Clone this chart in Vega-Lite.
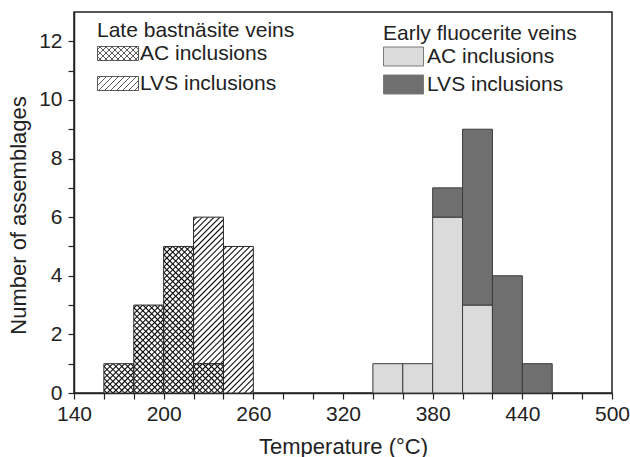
{
"$schema": "https://vega.github.io/schema/vega-lite/v6.json",
"width": 538, "height": 381,
"autosize": "none",
"padding": {"left": 74, "top": 12, "right": 18, "bottom": 64},
"background": "white",
"config": {
"font": "Liberation Sans",
"view": {"stroke": "#222", "strokeWidth": 1.5},
"axis": {"grid": false, "domainColor": "#222", "domainWidth": 1.5, "tickColor": "#222", "tickWidth": 1.2, "tickSize": 6, "labelFont": "Liberation Sans", "labelFontSize": 21, "labelColor": "#222", "titleFont": "Liberation Sans", "titleFontSize": 22, "titleFontWeight": "normal", "titleColor": "#222", "labelOverlap": false, "labelFlush": false, "labelBound": false},
"legend": {"labelFont": "Liberation Sans", "labelFontSize": 21, "labelColor": "#222", "titleFont": "Liberation Sans", "titleFontSize": 21, "titleFontWeight": "normal", "titleColor": "#222", "titleLimit": 400, "labelLimit": 300, "padding": 0, "offset": 0}
},
"data": {"values": [
{"vein":"Late bastnäsite veins","type":"AC inclusions","t0":160,"t1":180,"count":1},
{"vein":"Late bastnäsite veins","type":"AC inclusions","t0":180,"t1":200,"count":3},
{"vein":"Late bastnäsite veins","type":"AC inclusions","t0":200,"t1":220,"count":5},
{"vein":"Late bastnäsite veins","type":"AC inclusions","t0":220,"t1":240,"count":1},
{"vein":"Late bastnäsite veins","type":"LVS inclusions","t0":220,"t1":240,"count":5},
{"vein":"Late bastnäsite veins","type":"LVS inclusions","t0":240,"t1":260,"count":5},
{"vein":"Early fluocerite veins","type":"AC inclusions","t0":340,"t1":360,"count":1},
{"vein":"Early fluocerite veins","type":"AC inclusions","t0":360,"t1":380,"count":1},
{"vein":"Early fluocerite veins","type":"AC inclusions","t0":380,"t1":400,"count":6},
{"vein":"Early fluocerite veins","type":"AC inclusions","t0":400,"t1":420,"count":3},
{"vein":"Early fluocerite veins","type":"LVS inclusions","t0":380,"t1":400,"count":1},
{"vein":"Early fluocerite veins","type":"LVS inclusions","t0":400,"t1":420,"count":6},
{"vein":"Early fluocerite veins","type":"LVS inclusions","t0":420,"t1":440,"count":4},
{"vein":"Early fluocerite veins","type":"LVS inclusions","t0":440,"t1":460,"count":1}
]},
"transform": [{"stack": "count", "groupby": ["t0"], "sort": [{"field": "type", "order": "ascending"}], "as": ["y0", "y1"]}],
"encoding": {
"x": {"field": "t0", "type": "quantitative", "scale": {"domain": [140, 500], "nice": false, "zero": false}, "axis": {"title": "Temperature (°C)", "values": [140,160,180,200,220,240,260,280,300,320,340,360,380,400,420,440,460,480,500], "labelExpr": "(datum.value - 140) % 60 === 0 ? datum.label : ''", "labelPadding": 4, "titlePadding": 12}},
"x2": {"field": "t1"},
"y": {"field": "y0", "type": "quantitative", "scale": {"domain": [0, 13], "nice": false}, "axis": {"title": "Number of assemblages", "values": [0,1,2,3,4,5,6,7,8,9,10,11,12], "labelExpr": "datum.value % 2 === 0 ? datum.label : ''", "labelPadding": 6, "titlePadding": 8, "titleY": 203}},
"y2": {"field": "y1"}
},
"layer": [
{"transform": [{"filter": "datum.vein === 'Early fluocerite veins'"}],
 "mark": {"type": "bar", "stroke": "#3c3c3c", "strokeWidth": 1},
 "encoding": {"fill": {"field": "type", "type": "nominal", "scale": {"domain": ["AC inclusions", "LVS inclusions"], "range": ["#dbdbdb", "#6f6f6f"]},
   "legend": {"title": "Early fluocerite veins", "orient": "none", "legendX": 309, "legendY": 11, "symbolType": "M-1,-0.95H3V0.95H-1Z", "symbolSize": 400, "symbolStrokeColor": "#7a7a7a", "symbolStrokeWidth": 1, "labelOffset": 23, "rowPadding": 5, "titlePadding": 2,
     "encode": {"symbols": {"update": {"stroke": {"value": "#7a7a7a"}, "strokeWidth": {"value": 1}, "opacity": {"value": 1}}}}}}}},
{"transform": [{"filter": "datum.vein === 'Late bastnäsite veins'"}],
 "mark": {"type": "bar"},
 "encoding": {"fill": {"field": "type", "type": "nominal", "scale": {"domain": ["AC inclusions", "LVS inclusions"], "range": ["#ffffff", "#ffffff"]},
   "legend": {"title": "Late bastnäsite veins", "orient": "none", "legendX": 23, "legendY": 8, "symbolSize": 400, "symbolStrokeWidth": 0.8, "labelOffset": 22, "rowPadding": 8, "titlePadding": 2,
     "encode": {"symbols": {"update": {
       "shape": [{"test": "datum.value === 'AC inclusions'", "value": "M-1,-0.7H3.1V0.7H-1ZM-1,-0.4L-0.7,-0.7M-1,0.2L-0.1,-0.7M-0.9,0.7L0.5,-0.7M-0.3,0.7L1.1,-0.7M0.3,0.7L1.7,-0.7M0.9,0.7L2.3,-0.7M1.5,0.7L2.9,-0.7M2.1,0.7L3.1,-0.3M2.7,0.7L3.1,0.3M3.1,-0.4L2.8,-0.7M3.1,0.2L2.2,-0.7M3,0.7L1.6,-0.7M2.4,0.7L1,-0.7M1.8,0.7L0.4,-0.7M1.2,0.7L-0.2,-0.7M0.6,0.7L-0.8,-0.7M0,0.7L-1,-0.3M-0.6,0.7L-1,0.3"}, {"value": "M-1,-0.7H3.1V0.7H-1ZM-1,-0.4L-0.7,-0.7M-1,0.2L-0.1,-0.7M-0.9,0.7L0.5,-0.7M-0.3,0.7L1.1,-0.7M0.3,0.7L1.7,-0.7M0.9,0.7L2.3,-0.7M1.5,0.7L2.9,-0.7M2.1,0.7L3.1,-0.3M2.7,0.7L3.1,0.3"}],
       "fill": {"value": "#ffffff"}, "stroke": {"value": "#333333"}, "strokeWidth": {"value": 0.8}, "opacity": {"value": 1}}}}}}}},
{"transform": [{"filter": "datum.vein === 'Late bastnäsite veins'"}],
 "mark": {"type": "bar"},
 "encoding": {"fill": {"condition": [
   {"test": "datum.count === 1", "value": {"gradient": "linear", "x1": 0, "y1": 0, "x2": 1.0097, "y2": 0.9901, "stops": [
{"offset":0.025,"color":"#fff"},{"offset":0.05,"color":"#000"},{"offset":0.075,"color":"#fff"},
{"offset":0.125,"color":"#fff"},{"offset":0.15,"color":"#000"},{"offset":0.175,"color":"#fff"},
{"offset":0.225,"color":"#fff"},{"offset":0.25,"color":"#000"},{"offset":0.275,"color":"#fff"},
{"offset":0.325,"color":"#fff"},{"offset":0.35,"color":"#000"},{"offset":0.375,"color":"#fff"},
{"offset":0.425,"color":"#fff"},{"offset":0.45,"color":"#000"},{"offset":0.475,"color":"#fff"},
{"offset":0.525,"color":"#fff"},{"offset":0.55,"color":"#000"},{"offset":0.575,"color":"#fff"},
{"offset":0.625,"color":"#fff"},{"offset":0.65,"color":"#000"},{"offset":0.675,"color":"#fff"},
{"offset":0.725,"color":"#fff"},{"offset":0.75,"color":"#000"},{"offset":0.775,"color":"#fff"},
{"offset":0.825,"color":"#fff"},{"offset":0.85,"color":"#000"},{"offset":0.875,"color":"#fff"},
{"offset":0.925,"color":"#fff"},{"offset":0.95,"color":"#000"},{"offset":0.975,"color":"#fff"}]}},
   {"test": "datum.count === 3", "value": {"gradient": "linear", "x1": 0, "y1": 0, "x2": 0.4083, "y2": 1.2011, "stops": [
{"offset":0.0125,"color":"#fff"},{"offset":0.025,"color":"#000"},{"offset":0.0375,"color":"#fff"},
{"offset":0.0625,"color":"#fff"},{"offset":0.075,"color":"#000"},{"offset":0.0875,"color":"#fff"},
{"offset":0.1125,"color":"#fff"},{"offset":0.125,"color":"#000"},{"offset":0.1375,"color":"#fff"},
{"offset":0.1625,"color":"#fff"},{"offset":0.175,"color":"#000"},{"offset":0.1875,"color":"#fff"},
{"offset":0.2125,"color":"#fff"},{"offset":0.225,"color":"#000"},{"offset":0.2375,"color":"#fff"},
{"offset":0.2625,"color":"#fff"},{"offset":0.275,"color":"#000"},{"offset":0.2875,"color":"#fff"},
{"offset":0.3125,"color":"#fff"},{"offset":0.325,"color":"#000"},{"offset":0.3375,"color":"#fff"},
{"offset":0.3625,"color":"#fff"},{"offset":0.375,"color":"#000"},{"offset":0.3875,"color":"#fff"},
{"offset":0.4125,"color":"#fff"},{"offset":0.425,"color":"#000"},{"offset":0.4375,"color":"#fff"},
{"offset":0.4625,"color":"#fff"},{"offset":0.475,"color":"#000"},{"offset":0.4875,"color":"#fff"},
{"offset":0.5125,"color":"#fff"},{"offset":0.525,"color":"#000"},{"offset":0.5375,"color":"#fff"},
{"offset":0.5625,"color":"#fff"},{"offset":0.575,"color":"#000"},{"offset":0.5875,"color":"#fff"},
{"offset":0.6125,"color":"#fff"},{"offset":0.625,"color":"#000"},{"offset":0.6375,"color":"#fff"},
{"offset":0.6625,"color":"#fff"},{"offset":0.675,"color":"#000"},{"offset":0.6875,"color":"#fff"},
{"offset":0.7125,"color":"#fff"},{"offset":0.725,"color":"#000"},{"offset":0.7375,"color":"#fff"},
{"offset":0.7625,"color":"#fff"},{"offset":0.775,"color":"#000"},{"offset":0.7875,"color":"#fff"},
{"offset":0.8125,"color":"#fff"},{"offset":0.825,"color":"#000"},{"offset":0.8375,"color":"#fff"},
{"offset":0.8625,"color":"#fff"},{"offset":0.875,"color":"#000"},{"offset":0.8875,"color":"#fff"},
{"offset":0.9125,"color":"#fff"},{"offset":0.925,"color":"#000"},{"offset":0.9375,"color":"#fff"},
{"offset":0.9625,"color":"#fff"},{"offset":0.975,"color":"#000"},{"offset":0.9875,"color":"#fff"}]}}],
   "value": {"gradient": "linear", "x1": 0, "y1": 0, "x2": 0.2358, "y2": 1.1559, "stops": [
{"offset":0.0083,"color":"#fff"},{"offset":0.0167,"color":"#000"},{"offset":0.025,"color":"#fff"},
{"offset":0.0417,"color":"#fff"},{"offset":0.05,"color":"#000"},{"offset":0.0583,"color":"#fff"},
{"offset":0.075,"color":"#fff"},{"offset":0.0833,"color":"#000"},{"offset":0.0917,"color":"#fff"},
{"offset":0.1083,"color":"#fff"},{"offset":0.1167,"color":"#000"},{"offset":0.125,"color":"#fff"},
{"offset":0.1417,"color":"#fff"},{"offset":0.15,"color":"#000"},{"offset":0.1583,"color":"#fff"},
{"offset":0.175,"color":"#fff"},{"offset":0.1833,"color":"#000"},{"offset":0.1917,"color":"#fff"},
{"offset":0.2083,"color":"#fff"},{"offset":0.2167,"color":"#000"},{"offset":0.225,"color":"#fff"},
{"offset":0.2417,"color":"#fff"},{"offset":0.25,"color":"#000"},{"offset":0.2583,"color":"#fff"},
{"offset":0.275,"color":"#fff"},{"offset":0.2833,"color":"#000"},{"offset":0.2917,"color":"#fff"},
{"offset":0.3083,"color":"#fff"},{"offset":0.3167,"color":"#000"},{"offset":0.325,"color":"#fff"},
{"offset":0.3417,"color":"#fff"},{"offset":0.35,"color":"#000"},{"offset":0.3583,"color":"#fff"},
{"offset":0.375,"color":"#fff"},{"offset":0.3833,"color":"#000"},{"offset":0.3917,"color":"#fff"},
{"offset":0.4083,"color":"#fff"},{"offset":0.4167,"color":"#000"},{"offset":0.425,"color":"#fff"},
{"offset":0.4417,"color":"#fff"},{"offset":0.45,"color":"#000"},{"offset":0.4583,"color":"#fff"},
{"offset":0.475,"color":"#fff"},{"offset":0.4833,"color":"#000"},{"offset":0.4917,"color":"#fff"},
{"offset":0.5083,"color":"#fff"},{"offset":0.5167,"color":"#000"},{"offset":0.525,"color":"#fff"},
{"offset":0.5417,"color":"#fff"},{"offset":0.55,"color":"#000"},{"offset":0.5583,"color":"#fff"},
{"offset":0.575,"color":"#fff"},{"offset":0.5833,"color":"#000"},{"offset":0.5917,"color":"#fff"},
{"offset":0.6083,"color":"#fff"},{"offset":0.6167,"color":"#000"},{"offset":0.625,"color":"#fff"},
{"offset":0.6417,"color":"#fff"},{"offset":0.65,"color":"#000"},{"offset":0.6583,"color":"#fff"},
{"offset":0.675,"color":"#fff"},{"offset":0.6833,"color":"#000"},{"offset":0.6917,"color":"#fff"},
{"offset":0.7083,"color":"#fff"},{"offset":0.7167,"color":"#000"},{"offset":0.725,"color":"#fff"},
{"offset":0.7417,"color":"#fff"},{"offset":0.75,"color":"#000"},{"offset":0.7583,"color":"#fff"},
{"offset":0.775,"color":"#fff"},{"offset":0.7833,"color":"#000"},{"offset":0.7917,"color":"#fff"},
{"offset":0.8083,"color":"#fff"},{"offset":0.8167,"color":"#000"},{"offset":0.825,"color":"#fff"},
{"offset":0.8417,"color":"#fff"},{"offset":0.85,"color":"#000"},{"offset":0.8583,"color":"#fff"},
{"offset":0.875,"color":"#fff"},{"offset":0.8833,"color":"#000"},{"offset":0.8917,"color":"#fff"},
{"offset":0.9083,"color":"#fff"},{"offset":0.9167,"color":"#000"},{"offset":0.925,"color":"#fff"},
{"offset":0.9417,"color":"#fff"},{"offset":0.95,"color":"#000"},{"offset":0.9583,"color":"#fff"},
{"offset":0.975,"color":"#fff"},{"offset":0.9833,"color":"#000"},{"offset":0.9917,"color":"#fff"}]}}}},
{"transform": [{"filter": "datum.vein === 'Late bastnäsite veins' && datum.type === 'AC inclusions'"}],
 "mark": {"type": "bar"},
 "encoding": {"fill": {"condition": [
   {"test": "datum.count === 1", "value": {"gradient": "linear", "x1": 1, "y1": 0, "x2": -0.0097, "y2": 0.9901, "stops": [
{"offset":0.025,"color":"rgba(0,0,0,0)"},{"offset":0.05,"color":"#000"},{"offset":0.075,"color":"rgba(0,0,0,0)"},
{"offset":0.125,"color":"rgba(0,0,0,0)"},{"offset":0.15,"color":"#000"},{"offset":0.175,"color":"rgba(0,0,0,0)"},
{"offset":0.225,"color":"rgba(0,0,0,0)"},{"offset":0.25,"color":"#000"},{"offset":0.275,"color":"rgba(0,0,0,0)"},
{"offset":0.325,"color":"rgba(0,0,0,0)"},{"offset":0.35,"color":"#000"},{"offset":0.375,"color":"rgba(0,0,0,0)"},
{"offset":0.425,"color":"rgba(0,0,0,0)"},{"offset":0.45,"color":"#000"},{"offset":0.475,"color":"rgba(0,0,0,0)"},
{"offset":0.525,"color":"rgba(0,0,0,0)"},{"offset":0.55,"color":"#000"},{"offset":0.575,"color":"rgba(0,0,0,0)"},
{"offset":0.625,"color":"rgba(0,0,0,0)"},{"offset":0.65,"color":"#000"},{"offset":0.675,"color":"rgba(0,0,0,0)"},
{"offset":0.725,"color":"rgba(0,0,0,0)"},{"offset":0.75,"color":"#000"},{"offset":0.775,"color":"rgba(0,0,0,0)"},
{"offset":0.825,"color":"rgba(0,0,0,0)"},{"offset":0.85,"color":"#000"},{"offset":0.875,"color":"rgba(0,0,0,0)"},
{"offset":0.925,"color":"rgba(0,0,0,0)"},{"offset":0.95,"color":"#000"},{"offset":0.975,"color":"rgba(0,0,0,0)"}]}},
   {"test": "datum.count === 3", "value": {"gradient": "linear", "x1": 1, "y1": 0, "x2": 0.5917, "y2": 1.2011, "stops": [
{"offset":0.0125,"color":"rgba(0,0,0,0)"},{"offset":0.025,"color":"#000"},{"offset":0.0375,"color":"rgba(0,0,0,0)"},
{"offset":0.0625,"color":"rgba(0,0,0,0)"},{"offset":0.075,"color":"#000"},{"offset":0.0875,"color":"rgba(0,0,0,0)"},
{"offset":0.1125,"color":"rgba(0,0,0,0)"},{"offset":0.125,"color":"#000"},{"offset":0.1375,"color":"rgba(0,0,0,0)"},
{"offset":0.1625,"color":"rgba(0,0,0,0)"},{"offset":0.175,"color":"#000"},{"offset":0.1875,"color":"rgba(0,0,0,0)"},
{"offset":0.2125,"color":"rgba(0,0,0,0)"},{"offset":0.225,"color":"#000"},{"offset":0.2375,"color":"rgba(0,0,0,0)"},
{"offset":0.2625,"color":"rgba(0,0,0,0)"},{"offset":0.275,"color":"#000"},{"offset":0.2875,"color":"rgba(0,0,0,0)"},
{"offset":0.3125,"color":"rgba(0,0,0,0)"},{"offset":0.325,"color":"#000"},{"offset":0.3375,"color":"rgba(0,0,0,0)"},
{"offset":0.3625,"color":"rgba(0,0,0,0)"},{"offset":0.375,"color":"#000"},{"offset":0.3875,"color":"rgba(0,0,0,0)"},
{"offset":0.4125,"color":"rgba(0,0,0,0)"},{"offset":0.425,"color":"#000"},{"offset":0.4375,"color":"rgba(0,0,0,0)"},
{"offset":0.4625,"color":"rgba(0,0,0,0)"},{"offset":0.475,"color":"#000"},{"offset":0.4875,"color":"rgba(0,0,0,0)"},
{"offset":0.5125,"color":"rgba(0,0,0,0)"},{"offset":0.525,"color":"#000"},{"offset":0.5375,"color":"rgba(0,0,0,0)"},
{"offset":0.5625,"color":"rgba(0,0,0,0)"},{"offset":0.575,"color":"#000"},{"offset":0.5875,"color":"rgba(0,0,0,0)"},
{"offset":0.6125,"color":"rgba(0,0,0,0)"},{"offset":0.625,"color":"#000"},{"offset":0.6375,"color":"rgba(0,0,0,0)"},
{"offset":0.6625,"color":"rgba(0,0,0,0)"},{"offset":0.675,"color":"#000"},{"offset":0.6875,"color":"rgba(0,0,0,0)"},
{"offset":0.7125,"color":"rgba(0,0,0,0)"},{"offset":0.725,"color":"#000"},{"offset":0.7375,"color":"rgba(0,0,0,0)"},
{"offset":0.7625,"color":"rgba(0,0,0,0)"},{"offset":0.775,"color":"#000"},{"offset":0.7875,"color":"rgba(0,0,0,0)"},
{"offset":0.8125,"color":"rgba(0,0,0,0)"},{"offset":0.825,"color":"#000"},{"offset":0.8375,"color":"rgba(0,0,0,0)"},
{"offset":0.8625,"color":"rgba(0,0,0,0)"},{"offset":0.875,"color":"#000"},{"offset":0.8875,"color":"rgba(0,0,0,0)"},
{"offset":0.9125,"color":"rgba(0,0,0,0)"},{"offset":0.925,"color":"#000"},{"offset":0.9375,"color":"rgba(0,0,0,0)"},
{"offset":0.9625,"color":"rgba(0,0,0,0)"},{"offset":0.975,"color":"#000"},{"offset":0.9875,"color":"rgba(0,0,0,0)"}]}}],
   "value": {"gradient": "linear", "x1": 1, "y1": 0, "x2": 0.7642, "y2": 1.1559, "stops": [
{"offset":0.0083,"color":"rgba(0,0,0,0)"},{"offset":0.0167,"color":"#000"},{"offset":0.025,"color":"rgba(0,0,0,0)"},
{"offset":0.0417,"color":"rgba(0,0,0,0)"},{"offset":0.05,"color":"#000"},{"offset":0.0583,"color":"rgba(0,0,0,0)"},
{"offset":0.075,"color":"rgba(0,0,0,0)"},{"offset":0.0833,"color":"#000"},{"offset":0.0917,"color":"rgba(0,0,0,0)"},
{"offset":0.1083,"color":"rgba(0,0,0,0)"},{"offset":0.1167,"color":"#000"},{"offset":0.125,"color":"rgba(0,0,0,0)"},
{"offset":0.1417,"color":"rgba(0,0,0,0)"},{"offset":0.15,"color":"#000"},{"offset":0.1583,"color":"rgba(0,0,0,0)"},
{"offset":0.175,"color":"rgba(0,0,0,0)"},{"offset":0.1833,"color":"#000"},{"offset":0.1917,"color":"rgba(0,0,0,0)"},
{"offset":0.2083,"color":"rgba(0,0,0,0)"},{"offset":0.2167,"color":"#000"},{"offset":0.225,"color":"rgba(0,0,0,0)"},
{"offset":0.2417,"color":"rgba(0,0,0,0)"},{"offset":0.25,"color":"#000"},{"offset":0.2583,"color":"rgba(0,0,0,0)"},
{"offset":0.275,"color":"rgba(0,0,0,0)"},{"offset":0.2833,"color":"#000"},{"offset":0.2917,"color":"rgba(0,0,0,0)"},
{"offset":0.3083,"color":"rgba(0,0,0,0)"},{"offset":0.3167,"color":"#000"},{"offset":0.325,"color":"rgba(0,0,0,0)"},
{"offset":0.3417,"color":"rgba(0,0,0,0)"},{"offset":0.35,"color":"#000"},{"offset":0.3583,"color":"rgba(0,0,0,0)"},
{"offset":0.375,"color":"rgba(0,0,0,0)"},{"offset":0.3833,"color":"#000"},{"offset":0.3917,"color":"rgba(0,0,0,0)"},
{"offset":0.4083,"color":"rgba(0,0,0,0)"},{"offset":0.4167,"color":"#000"},{"offset":0.425,"color":"rgba(0,0,0,0)"},
{"offset":0.4417,"color":"rgba(0,0,0,0)"},{"offset":0.45,"color":"#000"},{"offset":0.4583,"color":"rgba(0,0,0,0)"},
{"offset":0.475,"color":"rgba(0,0,0,0)"},{"offset":0.4833,"color":"#000"},{"offset":0.4917,"color":"rgba(0,0,0,0)"},
{"offset":0.5083,"color":"rgba(0,0,0,0)"},{"offset":0.5167,"color":"#000"},{"offset":0.525,"color":"rgba(0,0,0,0)"},
{"offset":0.5417,"color":"rgba(0,0,0,0)"},{"offset":0.55,"color":"#000"},{"offset":0.5583,"color":"rgba(0,0,0,0)"},
{"offset":0.575,"color":"rgba(0,0,0,0)"},{"offset":0.5833,"color":"#000"},{"offset":0.5917,"color":"rgba(0,0,0,0)"},
{"offset":0.6083,"color":"rgba(0,0,0,0)"},{"offset":0.6167,"color":"#000"},{"offset":0.625,"color":"rgba(0,0,0,0)"},
{"offset":0.6417,"color":"rgba(0,0,0,0)"},{"offset":0.65,"color":"#000"},{"offset":0.6583,"color":"rgba(0,0,0,0)"},
{"offset":0.675,"color":"rgba(0,0,0,0)"},{"offset":0.6833,"color":"#000"},{"offset":0.6917,"color":"rgba(0,0,0,0)"},
{"offset":0.7083,"color":"rgba(0,0,0,0)"},{"offset":0.7167,"color":"#000"},{"offset":0.725,"color":"rgba(0,0,0,0)"},
{"offset":0.7417,"color":"rgba(0,0,0,0)"},{"offset":0.75,"color":"#000"},{"offset":0.7583,"color":"rgba(0,0,0,0)"},
{"offset":0.775,"color":"rgba(0,0,0,0)"},{"offset":0.7833,"color":"#000"},{"offset":0.7917,"color":"rgba(0,0,0,0)"},
{"offset":0.8083,"color":"rgba(0,0,0,0)"},{"offset":0.8167,"color":"#000"},{"offset":0.825,"color":"rgba(0,0,0,0)"},
{"offset":0.8417,"color":"rgba(0,0,0,0)"},{"offset":0.85,"color":"#000"},{"offset":0.8583,"color":"rgba(0,0,0,0)"},
{"offset":0.875,"color":"rgba(0,0,0,0)"},{"offset":0.8833,"color":"#000"},{"offset":0.8917,"color":"rgba(0,0,0,0)"},
{"offset":0.9083,"color":"rgba(0,0,0,0)"},{"offset":0.9167,"color":"#000"},{"offset":0.925,"color":"rgba(0,0,0,0)"},
{"offset":0.9417,"color":"rgba(0,0,0,0)"},{"offset":0.95,"color":"#000"},{"offset":0.9583,"color":"rgba(0,0,0,0)"},
{"offset":0.975,"color":"rgba(0,0,0,0)"},{"offset":0.9833,"color":"#000"},{"offset":0.9917,"color":"rgba(0,0,0,0)"}]}}}},
{"transform": [{"filter": "datum.vein === 'Late bastnäsite veins'"}],
 "mark": {"type": "bar", "fill": "transparent", "stroke": "#2a2a2a", "strokeWidth": 1}}
],
"resolve": {"scale": {"fill": "independent"}}
}
